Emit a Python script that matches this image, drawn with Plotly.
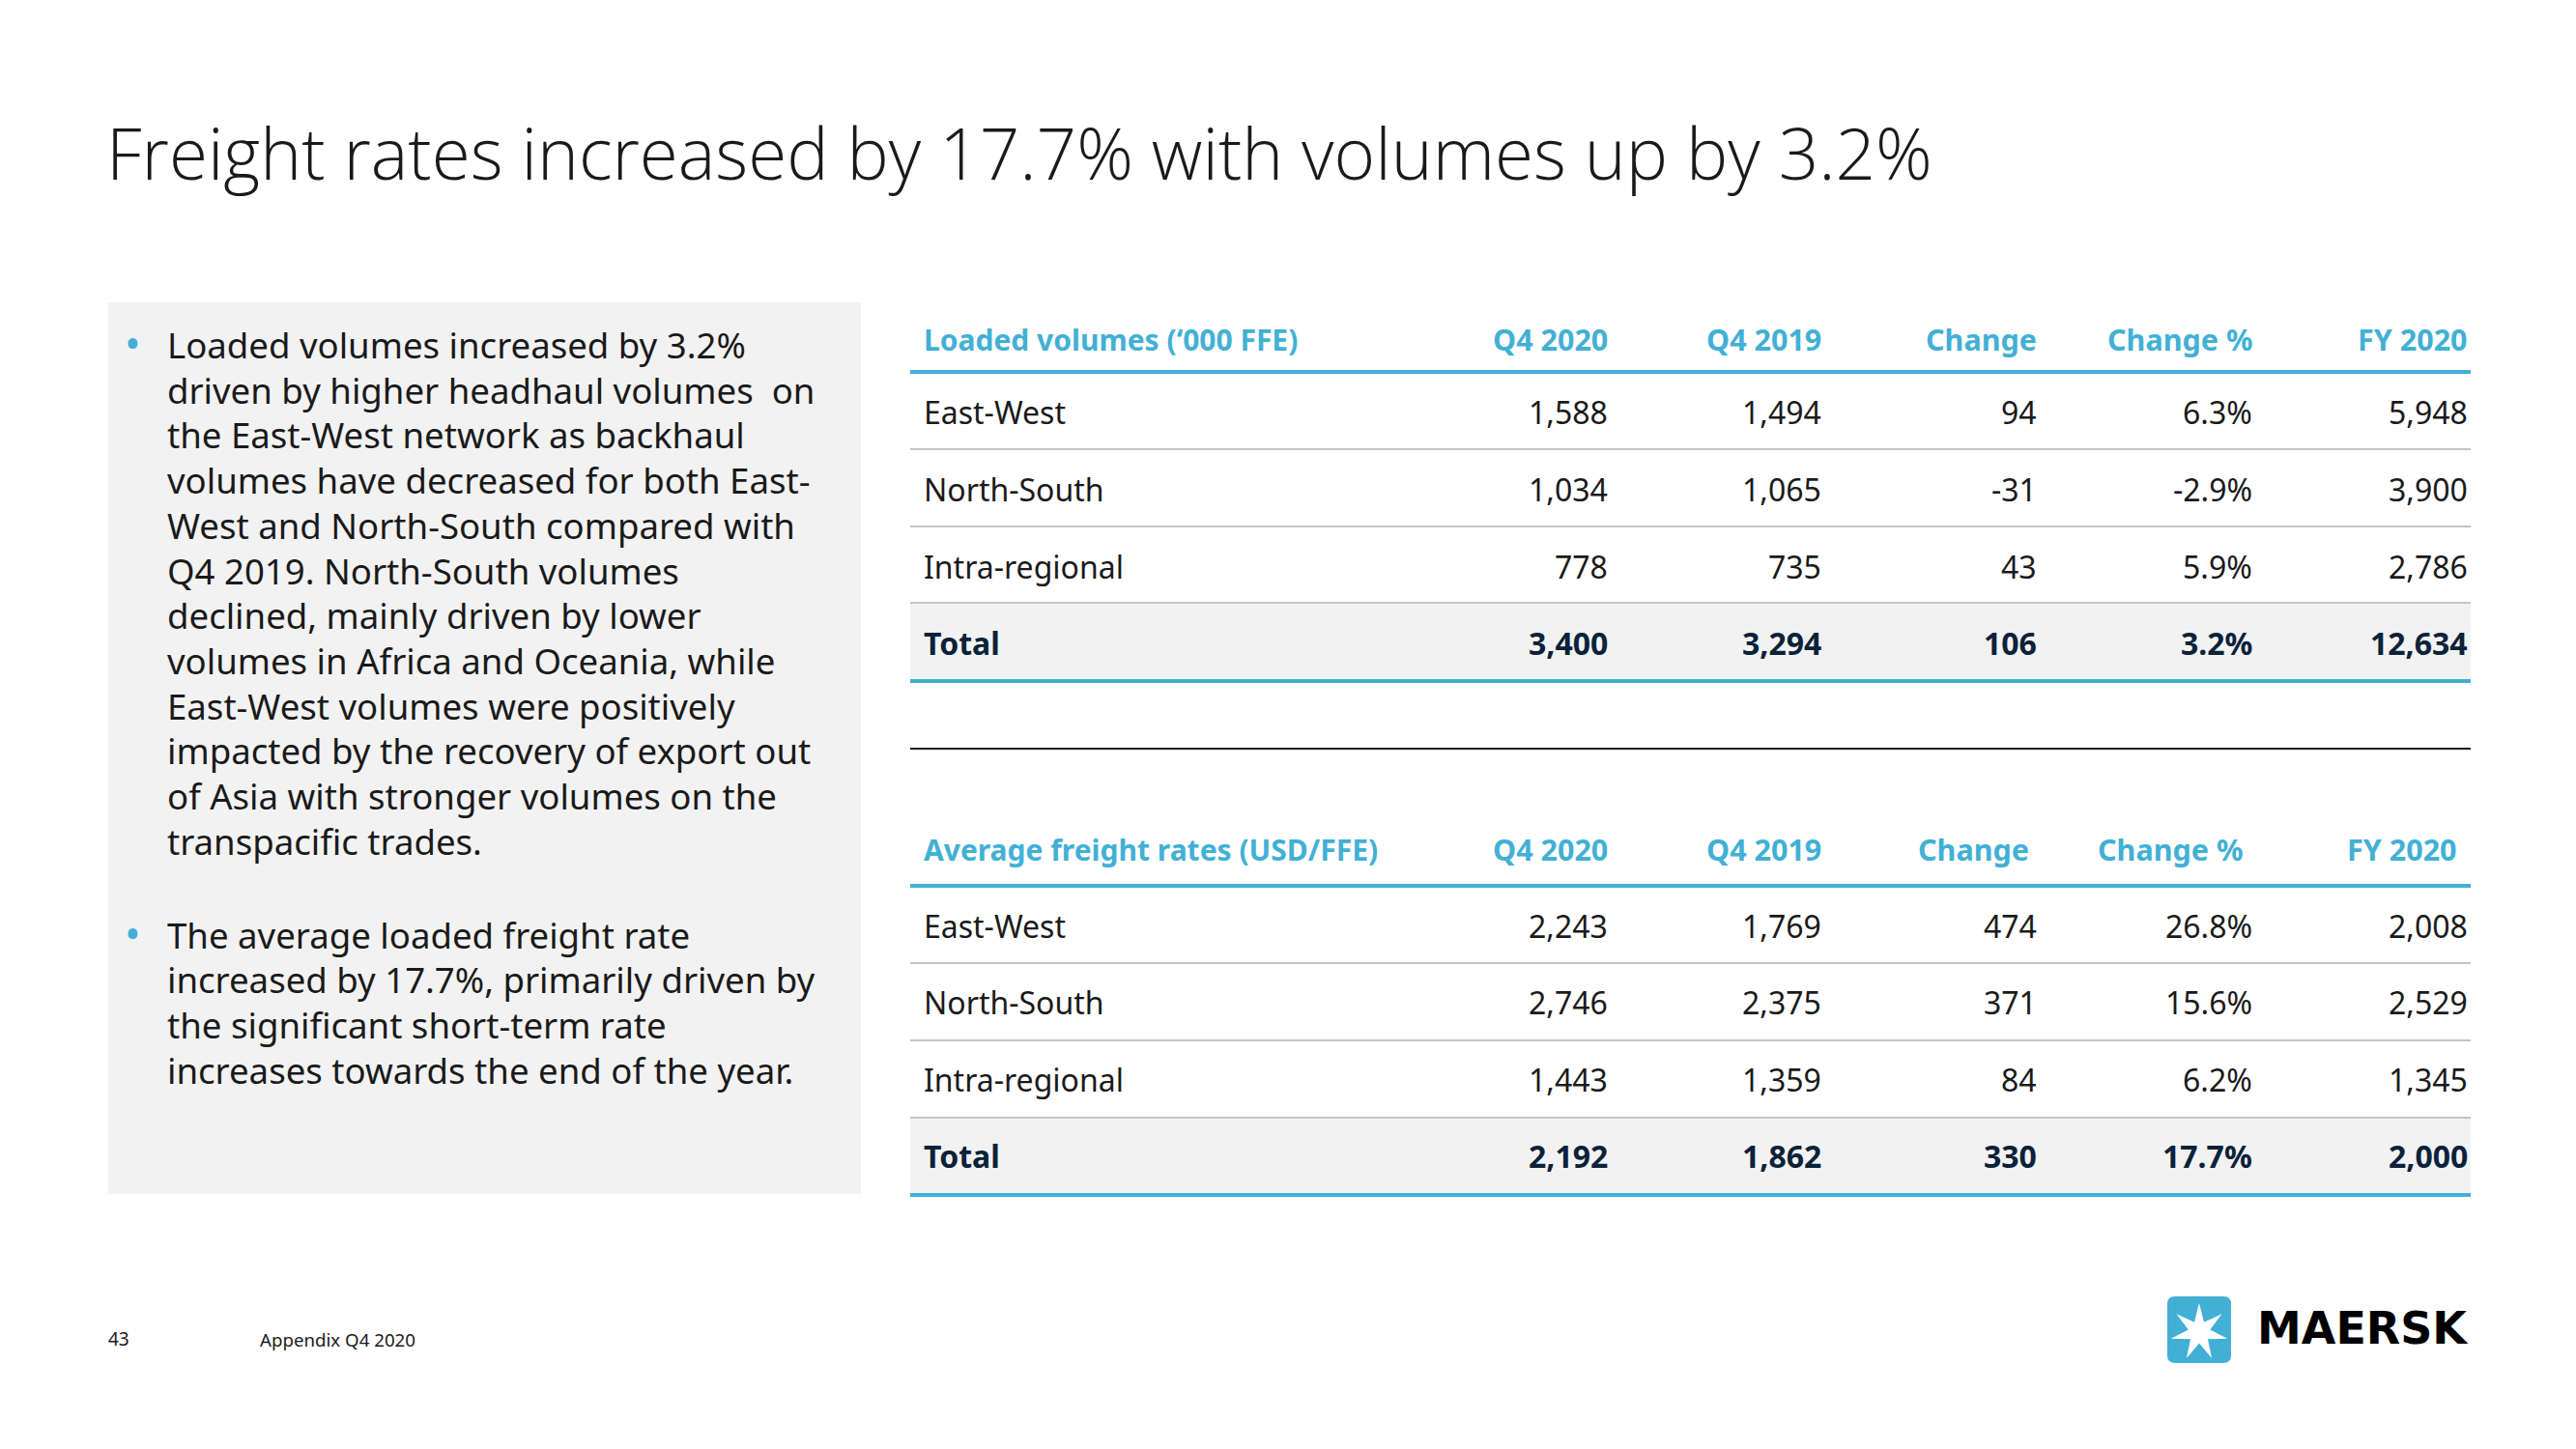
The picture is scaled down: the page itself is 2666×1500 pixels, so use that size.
import math
import plotly.graph_objects as go

W, H = 2666, 1500

# ---------------- data ----------------
title_text = "Freight rates increased by 17.7% with volumes up by 3.2%"

col_headers = ["Q4 2020", "Q4 2019", "Change", "Change %", "FY 2020"]
row_labels = ["East-West", "North-South", "Intra-regional", "Total"]

vol_title = "Loaded volumes (\u2018000 FFE)"
vol_q4_2020 = [1588, 1034, 778, 3400]
vol_q4_2019 = [1494, 1065, 735, 3294]
vol_change = [94, -31, 43, 106]
vol_change_pct = [6.3, -2.9, 5.9, 3.2]
vol_fy_2020 = [5948, 3900, 2786, 12634]

rate_title = "Average freight rates (USD/FFE)"
rate_q4_2020 = [2243, 2746, 1443, 2192]
rate_q4_2019 = [1769, 2375, 1359, 1862]
rate_change = [474, 371, 84, 330]
rate_change_pct = [26.8, 15.6, 6.2, 17.7]
rate_fy_2020 = [2008, 2529, 1345, 2000]

bullet_1 = [
    "Loaded volumes increased by 3.2%",
    "driven by higher headhaul volumes  on",
    "the East-West network as backhaul",
    "volumes have decreased for both East-",
    "West and North-South compared with",
    "Q4 2019. North-South volumes",
    "declined, mainly driven by lower",
    "volumes in Africa and Oceania, while",
    "East-West volumes were positively",
    "impacted by the recovery of export out",
    "of Asia with stronger volumes on the",
    "transpacific trades.",
]
bullet_2 = [
    "The average loaded freight rate",
    "increased by 17.7%, primarily driven by",
    "the significant short-term rate",
    "increases towards the end of the year.",
]

footer_page = "43"
footer_text = "Appendix Q4 2020"
logo_text = "MAERSK"

# ---------------- style / layout ----------------
BLUE = "#42b0d5"
NAVY = "#0b2239"
TXT = "#1a1a1a"
GREY_FILL = "#f2f2f2"
GREY_LINE = "#c4c4c4"
FONT = "Noto Sans"

TBL_X0, TBL_X1 = 942, 2557
LABEL_X = 954
VAL_RIGHT = [1666, 1887, 2110, 2333, 2556]
HDR_RIGHT_1 = [1666, 1887, 2110, 2333, 2556]
HDR_RIGHT_2 = [1666, 1887, 2102, 2323, 2545]

T1 = dict(header_y=351, rows_y=[426, 506, 586, 665], blue=[385, 705],
          grey=[465, 545, 624], band=(624, 705))
T2 = dict(header_y=879, rows_y=[958, 1037, 1117, 1196], blue=[917, 1237],
          grey=[997, 1077, 1157], band=(1157, 1237))

fig = go.Figure()
annotations = []
shapes = []


def ann(x, y, text, size, color=TXT, xanchor="left", weight=400, family=FONT):
    annotations.append(dict(
        x=x, y=y, xref="x", yref="y", text=text, showarrow=False,
        xanchor=xanchor, yanchor="middle",
        font=dict(family=family, size=size, color=color, weight=weight),
    ))


def hline(y, color, width, x0=TBL_X0, x1=TBL_X1):
    shapes.append(dict(type="line", xref="x", yref="y", x0=x0, x1=x1, y0=y, y1=y,
                       line=dict(color=color, width=width)))


def fmt_int(v):
    return f"{v:,}"


def fmt_pct(v):
    return f"{v:.1f}%"


# ---- left grey box with bullets ----
shapes.append(dict(type="rect", xref="x", yref="y", x0=112, x1=891, y0=313, y1=1236,
                   fillcolor=GREY_FILL, line=dict(width=0), layer="below"))

LINE_PITCH = 46.7
for start_y, lines in [(357, bullet_1), (967.5, bullet_2)]:
    ann(137, start_y - 2, "\u2022", 44, color=BLUE, xanchor="center")
    for i, line in enumerate(lines):
        ann(171, start_y + i * LINE_PITCH, line, 36.6, color=TXT)

# ---- tables ----
def draw_table(cfg, title, hdr_right, cols):
    shapes.append(dict(type="rect", xref="x", yref="y", x0=TBL_X0, x1=TBL_X1,
                       y0=cfg["band"][0], y1=cfg["band"][1],
                       fillcolor=GREY_FILL, line=dict(width=0), layer="below"))
    for gy in cfg["grey"]:
        hline(gy, GREY_LINE, 2)
    for by in cfg["blue"]:
        hline(by, BLUE, 4)
    ann(LABEL_X, cfg["header_y"], title, 30, color=BLUE, weight=700)
    for h, xr in zip(col_headers, hdr_right):
        ann(xr, cfg["header_y"], h, 30.5, color=BLUE, weight=700, xanchor="right")
    for r, (label, ry) in enumerate(zip(row_labels, cfg["rows_y"])):
        is_total = label == "Total"
        color = NAVY if is_total else TXT
        weight = 700 if is_total else 400
        ann(LABEL_X, ry, label, 32, color=color, weight=weight)
        for c, (vals, xr) in enumerate(zip(cols, VAL_RIGHT)):
            v = vals[r]
            txt = fmt_pct(v) if c == 3 else fmt_int(v)
            ann(xr, ry, txt, 32, color=color, weight=weight, xanchor="right")


draw_table(T1, vol_title, HDR_RIGHT_1,
           [vol_q4_2020, vol_q4_2019, vol_change, vol_change_pct, vol_fy_2020])
hline(775, "#1a1a1a", 2)
draw_table(T2, rate_title, HDR_RIGHT_2,
           [rate_q4_2020, rate_q4_2019, rate_change, rate_change_pct, rate_fy_2020])

# ---- title ----
ann(108, 157, title_text, 72.8, color=TXT, weight=300, family="Open Sans")

# ---- footer ----
ann(110, 1386, footer_page, 19, color=TXT)
ann(267, 1386, footer_text, 18.7, color=TXT)

# ---- logo ----
lx0, lx1, ly0, ly1, rr = 2243, 2309, 1342, 1411, 8
shapes.append(dict(
    type="path", xref="x", yref="y", fillcolor=BLUE, line=dict(width=0),
    path=(f"M {lx0+rr},{ly0} L {lx1-rr},{ly0} Q {lx1},{ly0} {lx1},{ly0+rr} "
          f"L {lx1},{ly1-rr} Q {lx1},{ly1} {lx1-rr},{ly1} L {lx0+rr},{ly1} "
          f"Q {lx0},{ly1} {lx0},{ly1-rr} L {lx0},{ly0+rr} Q {lx0},{ly0} {lx0+rr},{ly0} Z"),
))
cx, cy, R_out, R_in = 2276, 1379, 30, 11.5
pts = []
for k in range(14):
    ang = -math.pi / 2 + k * math.pi / 7
    rad = R_out if k % 2 == 0 else R_in
    pts.append((cx + rad * math.cos(ang), cy + rad * math.sin(ang)))
star_path = "M " + " L ".join(f"{px:.2f},{py:.2f}" for px, py in pts) + " Z"
shapes.append(dict(type="path", xref="x", yref="y", path=star_path,
                   fillcolor="white", line=dict(width=0)))
ann(2557, 1375, logo_text, 46, color="#000000", weight=700, xanchor="right",
    family="DejaVu Sans")

fig.update_layout(
    width=W, height=H,
    margin=dict(l=0, r=0, t=0, b=0),
    paper_bgcolor="white", plot_bgcolor="white",
    xaxis=dict(range=[0, W], visible=False, fixedrange=True),
    yaxis=dict(range=[H, 0], visible=False, fixedrange=True),
    showlegend=False,
    annotations=annotations,
    shapes=shapes,
)

fig.write_html(
    "out.html",
    config={"displayModeBar": False, "staticPlot": True},
    post_script="document.body.style.margin='0';document.body.style.overflow='hidden';",
)
